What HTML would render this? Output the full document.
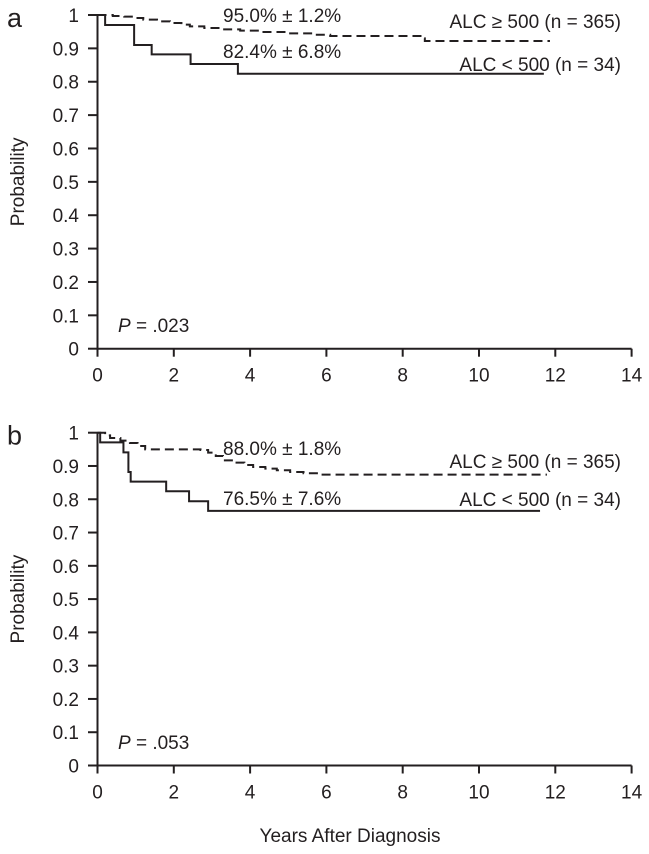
<!DOCTYPE html>
<html><head><meta charset="utf-8"><style>
html,body{margin:0;padding:0;background:#fff}
svg{display:block}
text{font-family:"Liberation Sans",Arial,sans-serif;fill:#231f20}
</style></head><body>
<svg id="chart" width="649" height="854" viewBox="0 0 649 854"></svg>
<script>
const xTicks=[0,2,4,6,8,10,12,14];
const yTicks=[0,0.1,0.2,0.3,0.4,0.5,0.6,0.7,0.8,0.9,1];
const aHighT=[0,0.4,0.7,0.93,1.2,1.56,1.9,2.2,2.42,2.8,3.2,3.74,4.3,5.05,5.6,6.1,8.5,8.58,11.86];
const aHighP=[1,0.997,0.995,0.991,0.986,0.981,0.976,0.971,0.966,0.961,0.957,0.953,0.949,0.945,0.941,0.937,0.93,0.922,0.922];
const aLowT=[0,0.2,0.96,1.42,2.44,3.68,11.7];
const aLowP=[1,0.97,0.91,0.882,0.853,0.824,0.824];
const bHighT=[0,0.2,0.33,0.6,0.85,1.05,1.25,2.7,2.9,3.1,3.29,3.6,3.85,4.08,4.4,4.7,5.05,5.4,5.9,11.78];
const bHighP=[1,0.992,0.984,0.976,0.969,0.96,0.95,0.948,0.94,0.93,0.917,0.91,0.903,0.897,0.892,0.887,0.882,0.878,0.874,0.874];
const bLowT=[0,0.07,0.68,0.81,0.87,1.8,2.4,2.9,11.6];
const bLowP=[1,0.971,0.941,0.882,0.853,0.824,0.794,0.765,0.765];
const panels=[
 {id:'a',y0:348.7,y1:15,hT:aHighT,hP:aHighP,lT:aLowT,lP:aLowP,hTxt:'95.0% ± 1.2%',lTxt:'82.4% ± 6.8%',p:'.023',hY:22,lY:58,hLegY:28,lLegY:71,pY:332},
 {id:'b',y0:765.5,y1:432.7,hT:bHighT,hP:bHighP,lT:bLowT,lP:bLowP,hTxt:'88.0% ± 1.8%',lTxt:'76.5% ± 7.6%',p:'.053',hY:455,lY:505,hLegY:468,lLegY:506,pY:749}
];
const svg=document.getElementById('chart');
const NS='http://www.w3.org/2000/svg';
function mk(tag,attrs,parent){const e=document.createElementNS(NS,tag);for(const k in attrs)e.setAttribute(k,attrs[k]);(parent||svg).appendChild(e);return e;}
const X=t=>97.5+t*38.15;
function stepPath(T,P,Y){let d='M'+X(T[0])+','+Y(P[0]);for(let i=1;i<T.length;i++){d+=' H'+X(T[i])+' V'+Y(P[i]);}return d;}
const FS=19;
panels.forEach(pn=>{
 const Y=p=>pn.y0-(pn.y0-pn.y1)*p;
 const g=mk('g',{});
 
 
 const lab=mk('text',{x:7,y:pn.y1+12,'font-size':27},g);lab.textContent=pn.id;
 
 
 const ax=mk('path',{d:'M97.5,'+pn.y1+' V'+pn.y0+' H'+X(14),stroke:'#231f20','stroke-width':2,fill:'none'},g);
 
 
 yTicks.forEach(v=>{
  mk('line',{x1:88,x2:97.5,y1:Y(v),y2:Y(v),stroke:'#231f20','stroke-width':2},g);
  const t=mk('text',{x:79,y:Y(v)+7,'font-size':FS,'text-anchor':'end'},g);t.textContent=String(v);
  
  
 });
 xTicks.forEach(v=>{
  mk('line',{x1:X(v),x2:X(v),y1:pn.y0,y2:pn.y0+8,stroke:'#231f20','stroke-width':2},g);
  const t=mk('text',{x:X(v),y:pn.y0+33,'font-size':FS,'text-anchor':'middle'},g);t.textContent=String(v);
  
  
 });
 const yl=mk('text',{x:0,y:0,'font-size':FS,'text-anchor':'middle',transform:'translate(24,'+((pn.y0+pn.y1)/2)+') rotate(-90)'},g);yl.textContent='Probability';
 
 
 const h=mk('path',{d:stepPath(pn.hT,pn.hP,Y),stroke:'#231f20','stroke-width':2,fill:'none','stroke-dasharray':'9,5'},g);
 
 
 const l=mk('path',{d:stepPath(pn.lT,pn.lP,Y),stroke:'#231f20','stroke-width':2,fill:'none'},g);
 
 
 const a1=mk('text',{x:223,y:pn.hY,'font-size':FS},g);a1.textContent=pn.hTxt;
 
 
 const a2=mk('text',{x:223,y:pn.lY,'font-size':FS},g);a2.textContent=pn.lTxt;
 
 
 const l1=mk('text',{x:621,y:pn.hLegY,'font-size':FS,'text-anchor':'end'},g);l1.textContent='ALC ≥ 500 (n = 365)';
 
 
 const l2=mk('text',{x:621,y:pn.lLegY,'font-size':FS,'text-anchor':'end'},g);l2.textContent='ALC < 500 (n = 34)';
 
 
 const pv=mk('text',{x:118,y:pn.pY,'font-size':FS},g);
 
 
 const it=mk('tspan',{'font-style':'italic'},pv);it.textContent='P';
 const rest=mk('tspan',{},pv);rest.textContent=' = '+pn.p;
});
const xt=mk('text',{x:350,y:842,'font-size':FS,'text-anchor':'middle'});xt.textContent='Years After Diagnosis';


</script>
</body></html>
